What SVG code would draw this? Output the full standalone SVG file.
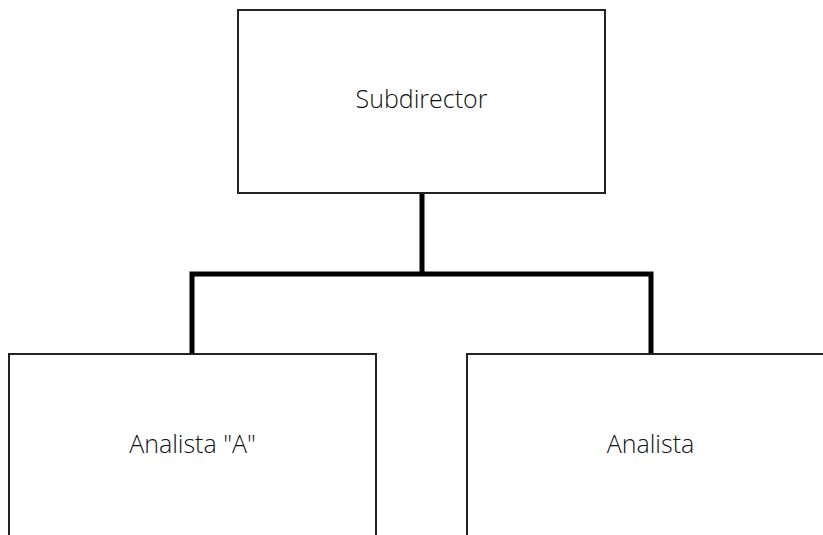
<svg xmlns="http://www.w3.org/2000/svg" width="823" height="535" viewBox="0 0 823 535">
<style>
.box{fill:#fff;stroke:#222;stroke-width:2}
.lbl{font-family:"Open Sans","Lato",sans-serif;font-size:25px;font-weight:300;fill:#111;text-anchor:middle}
.conn{fill:none;stroke:#000;stroke-width:5;stroke-linejoin:miter}
</style>
<rect width="823" height="535" fill="#fff"/>
<g id="connectors">
<path class="conn" d="M422 193 V274 M192 354 V274 H651 V354"/>
</g>
<g id="subdirector">
<rect class="box" x="238" y="10" width="367" height="183"/>
<text class="lbl" x="421.5" y="108">Subdirector</text>
</g>
<g id="analista-a">
<rect class="box" x="9" y="354" width="367" height="200"/>
<text class="lbl" x="192.5" y="453">Analista "A"</text>
</g>
<g id="analista">
<rect class="box" x="467" y="354" width="367" height="200"/>
<text class="lbl" x="650.5" y="453">Analista</text>
</g>
</svg>
